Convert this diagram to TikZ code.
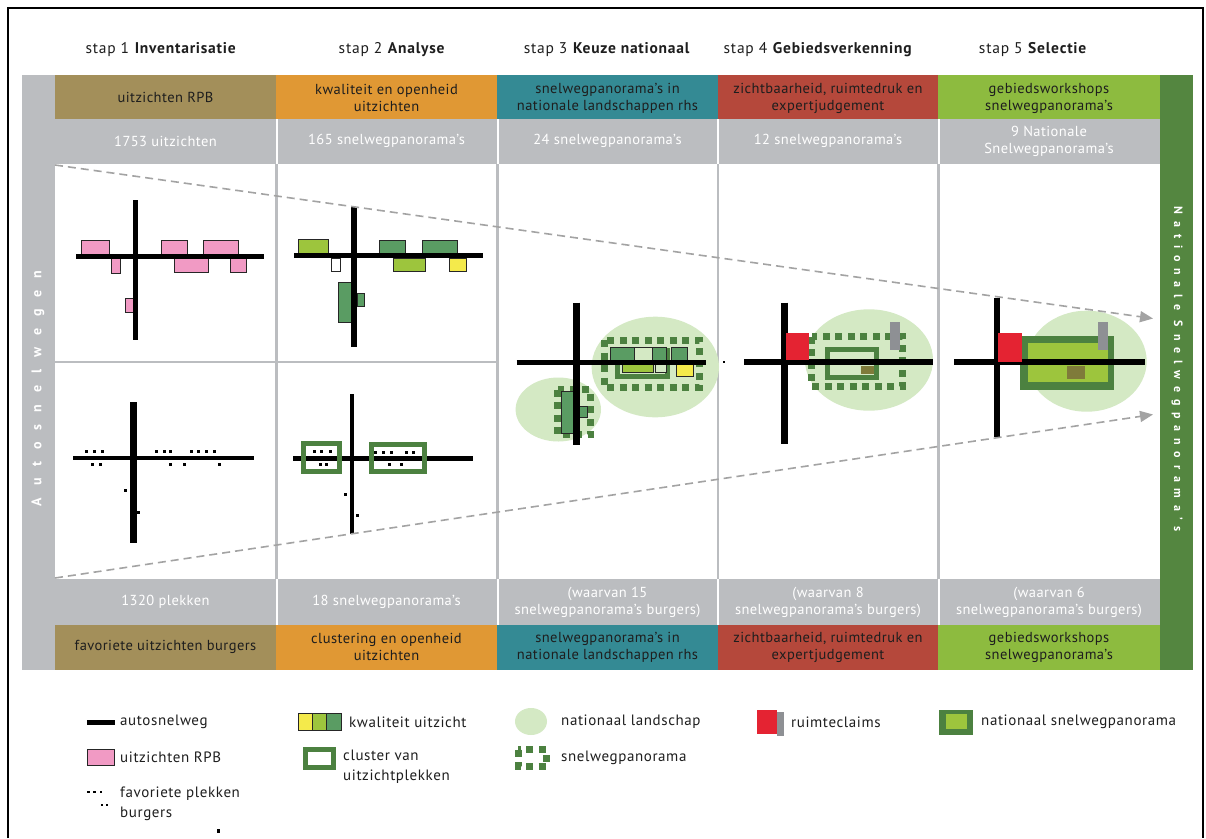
\documentclass[tikz,border=0pt]{standalone}
\usepackage{fontspec}
\setmainfont{PT Sans}
\usetikzlibrary{arrows.meta}
\definecolor{tgrey}{HTML}{BBBDC0}
\definecolor{hkhaki}{HTML}{A38F5A}
\definecolor{horange}{HTML}{E09834}
\definecolor{hteal}{HTML}{348A94}
\definecolor{hred}{HTML}{B5483B}
\definecolor{hlime}{HTML}{8DBB3F}
\definecolor{gbar}{HTML}{548640}
\definecolor{rpb}{HTML}{F19AC4}
\definecolor{qlime}{HTML}{9DC53D}
\definecolor{qgreen}{HTML}{5A9C63}
\definecolor{qyellow}{HTML}{F4EA4B}
\definecolor{cgreen}{HTML}{4C8140}
\definecolor{nland}{HTML}{D4E9C4}
\definecolor{rred}{HTML}{E42332}
\definecolor{rgrey}{HTML}{8E9094}
\definecolor{olivebox}{HTML}{7F7B3A}
\definecolor{dashgrey}{HTML}{A3A3A3}
\definecolor{txt}{HTML}{1E1E1E}
\begin{document}
\begin{tikzpicture}[x=1pt,y=-1pt,
  cell/.style={font=\fontsize{14.5}{17}\selectfont\addfontfeature{LetterSpace=3}, text=txt, align=center, inner sep=0},
  numcell/.style={cell, text=white},
  steptitle/.style={font=\fontsize{15.5}{17}\selectfont\addfontfeature{LetterSpace=5}, text=txt, inner sep=0},
  roadw/.style={black, line width=#1},
  vbox/.style={draw=black!85, line width=0.8},
  clusterframe/.style={draw=cgreen, line width=5},
  pano/.style={draw=cgreen, line width=7, dash pattern=on 7 off 5.5},
  guide/.style={dashgrey, line width=1.6, dash pattern=on 8 off 5, -{Triangle[length=13,width=11]}},
  legtxt/.style={font=\fontsize{15}{20}\selectfont\addfontfeature{LetterSpace=4}, text=txt, anchor=west, inner sep=0, align=left},
]
\useasboundingbox (0,0) rectangle (1206,838);
\fill[white] (0,0) rectangle (1206,838);
% outer frame
\draw[line width=2.5] (8,838) -- (8,8) -- (1203,8) -- (1203,838);

% step titles
\node[steptitle] (t1) at (161,50) {stap 1 \textbf{Inventarisatie}};
\node[steptitle] (t2) at (392,50) {stap 2 \textbf{Analyse}};
\node[steptitle] (t3) at (607,50) {stap 3 \textbf{Keuze nationaal}};
\node[steptitle] (t4) at (818,50) {stap 4 \textbf{Gebiedsverkenning}};
\node[steptitle] (t5) at (1033,50) {stap 5 \textbf{Selectie}};

% table background
\fill[tgrey] (22,75) rectangle (1160,670);
\fill[gbar] (1160,75) rectangle (1193,670);
% coloured header rows
\foreach \xa/\xb/\c in {55/276/hkhaki, 276/497/horange, 497/718/hteal, 718/938/hred, 938/1160/hlime}{
  \fill[\c] (\xa,75) rectangle (\xb,119);
  \fill[\c] (\xa,625) rectangle (\xb,670);
}
% white separators in grey rows
\foreach \x in {276.5,497.5,717.5,938.5}{
  \fill[white] (\x-1,119) rectangle (\x+1,164);
  \fill[white] (\x-1,579) rectangle (\x+1,625);
}
% content cells
\fill[white] (55,164) rectangle (275,360.5);
\fill[white] (55,363) rectangle (275,579);
\fill[white] (277.5,164) rectangle (496,360.5);
\fill[white] (277.5,363) rectangle (496,579);
\fill[white] (498.5,164) rectangle (716.5,579);
\fill[white] (719,164) rectangle (937,579);
\fill[white] (940,164) rectangle (1160,579);

% header texts
\node[cell] (h1) at (165.5,97) {uitzichten RPB};
\node[cell] (h2) at (386.5,98) {kwaliteit en openheid\\uitzichten};
\node[cell] (h3) at (607.5,98) {snelwegpanorama's in\\nationale landschappen rhs};
\node[cell] (h4) at (828,98) {zichtbaarheid, ruimtedruk en\\expertjudgement};
\node[cell] (h5) at (1049,98) {gebiedsworkshops\\snelwegpanorama's};
\node[numcell] (n1) at (165.5,141) {1753 uitzichten};
\node[numcell] (n2) at (386.5,141) {165 snelwegpanorama's};
\node[numcell] (n3) at (607.5,141) {24 snelwegpanorama's};
\node[numcell] (n4) at (828,141) {12 snelwegpanorama's};
\node[numcell] (n5) at (1049,141) {9 Nationale\\Snelwegpanorama's};
\node[numcell] (b1) at (165.5,602) {1320 plekken};
\node[numcell] (b2) at (386.5,602) {18 snelwegpanorama's};
\node[numcell] (b3) at (607.5,602) {(waarvan 15\\snelwegpanorama's burgers)};
\node[numcell] (b4) at (828,602) {(waarvan 8\\snelwegpanorama's burgers)};
\node[numcell] (b5) at (1049,602) {(waarvan 6\\snelwegpanorama's burgers)};
\node[cell] (f1) at (165.5,647) {favoriete uitzichten burgers};
\node[cell] (f2) at (386.5,647) {clustering en openheid\\uitzichten};
\node[cell] (f3) at (607.5,647) {snelwegpanorama's in\\nationale landschappen rhs};
\node[cell] (f4) at (828,647) {zichtbaarheid, ruimtedruk en\\expertjudgement};
\node[cell] (f5) at (1049,647) {gebiedsworkshops\\snelwegpanorama's};

% side bar texts
\node[rotate=90, text=white, inner sep=0, font=\fontsize{14}{14}\selectfont\bfseries\addfontfeature{LetterSpace=85}] (lside) at (38,388.5) {Autosnelwegen};
\node[rotate=-90, text=white, inner sep=0, font=\fontsize{12}{12}\selectfont\bfseries\addfontfeature{LetterSpace=57}] (rside) at (1177,369) {Nationale Snelwegpanorama's};

% ---- column 1 top: uitzichten RPB
\foreach \a/\b/\c/\d in {81.3/240/109/255, 161.7/240/187.7/255, 203.7/240/238.7/255, 111.7/258.5/120.7/273, 174/258.5/208/272, 230/258.5/246/272, 125/298/133.3/312}
  \filldraw[vbox, fill=rpb] (\a,\b) rectangle (\c,\d);
\draw[roadw=4.5] (76,256.7) -- (264,256.7);
\draw[roadw=4.5] (135.7,200) -- (135.7,340);

% ---- column 2 top: kwaliteit
\filldraw[vbox, fill=qlime] (298,239) rectangle (328,253);
\filldraw[vbox, fill=qgreen] (379,240) rectangle (405,253);
\filldraw[vbox, fill=qgreen] (422,240) rectangle (457,253);
\filldraw[vbox, fill=white] (331,258) rectangle (340,271);
\filldraw[vbox, fill=qlime] (393,258) rectangle (425,271);
\filldraw[vbox, fill=qyellow] (449,258) rectangle (466,271);
\filldraw[vbox, fill=qgreen] (338,282) rectangle (351,322);
\filldraw[vbox, fill=qgreen] (357,293) rectangle (364,306);
\draw[roadw=5] (294,255.7) -- (483,255.7);
\draw[roadw=6.5] (354,207) -- (354,347);

% ---- column 1 bottom: favoriete plekken
\draw[roadw=4.5] (73,458) -- (254,458);
\draw[roadw=7] (133,402) -- (133,543);
\foreach \p in {(86,451),(94.3,451),(102.3,451),(156.7,451),(164.3,451),(170,451),(191.7,451),(198.3,451),(206.7,451),(214.7,451),(92.3,464),(100,464),(170,464),(184.3,464),(219.7,464),(125.3,490),(138.3,512.3)}
  \fill \p ++(-1.5,-1.5) rectangle ++(3,3);

% ---- column 2 bottom: clusters
\draw[roadw=5] (293,458) -- (473,458);
\draw[roadw=4] (352.3,394) -- (352.3,534);
\draw[clusterframe] (303.7,443) rectangle (339.7,471.3);
\draw[clusterframe] (371.3,444) rectangle (424,471.3);
\foreach \p in {(314,451),(321.7,451),(330,451),(320,464),(326,464),(375,452),(383.3,452),(391,452),(406.7,452),(413.3,452),(389,464),(401.7,464),(345.7,494.7),(357.3,515)}
  \fill \p ++(-1.5,-1.5) rectangle ++(3,3);

% ---- column 3
\fill[nland] (655.3,367) ellipse [x radius=63.7, y radius=50.3];
\fill[nland] (558.3,409.5) ellipse [x radius=42.7, y radius=32];
\draw[pano] (604.5,340.2) rectangle (699.5,387.5);
\draw[pano] (557.8,389.5) rectangle (590.8,434.8);
\draw[clusterframe] (617.5,350.8) rectangle (667.5,376.8);
\filldraw[vbox, fill=qgreen] (610,347) rectangle (634,360);
\filldraw[vbox, fill=nland] (634,347) rectangle (652,360);
\filldraw[vbox, fill=qgreen] (652,347) rectangle (666,360);
\filldraw[vbox, fill=qgreen] (671,347) rectangle (687,360);
\filldraw[vbox, fill=qlime] (622.7,363.5) rectangle (653.3,372.7);
\filldraw[vbox, fill=nland] (655,363.5) rectangle (666,372.7);
\filldraw[vbox, fill=qyellow] (676.7,363.5) rectangle (693.3,376.7);
\filldraw[vbox, fill=qgreen] (561.7,391.7) rectangle (573.3,433.3);
\filldraw[vbox, fill=qgreen] (579,406) rectangle (587,417.7);
\draw[roadw=5] (516.7,362) -- (705.7,362);
\draw[roadw=7] (576.7,302.7) -- (576.7,445);
\fill (723.3,361.2) rectangle (724.8,362.8);

% ---- column 4
\fill[nland] (869,360) ellipse [x radius=64, y radius=50.7];
\draw[pano] (811.8,336.8) rectangle (902.2,386.5);
\draw[clusterframe] (827.5,349.2) rectangle (876.5,377.5);
\fill[olivebox] (861,366) rectangle (874.3,374);
\fill[rgrey] (890,321.7) rectangle (900,350);
\draw[roadw=6] (744.3,362) -- (933.3,362);
\draw[roadw=7] (784,302.7) -- (784,444);
\fill[rred] (786,333.3) rectangle (809.3,360);

% ---- column 5
\fill[nland] (1086.7,361.2) ellipse [x radius=60, y radius=50.5];
\fill[cgreen] (1020,336) rectangle (1114.3,390);
\fill[qlime] (1028.3,343.3) rectangle (1107.7,381.7);
\fill[olivebox] (1066.7,366) rectangle (1085,379.3);
\fill[rgrey] (1098.3,321.7) rectangle (1108.3,350);
\draw[roadw=6] (954.3,362) -- (1145,362);
\draw[roadw=6] (996.7,298.3) -- (996.7,436.7);
\fill[rred] (998,333.3) rectangle (1022.3,361.7);

% ---- funnel guides
\coordinate (gtopA) at (55,165);
\coordinate (gtopB) at (1153,318.5);
\coordinate (gbotA) at (55,578);
\coordinate (gbotB) at (1153,414.5);
\draw[guide] (gtopA) -- (gtopB);
\draw[guide] (gbotA) -- (gbotB);

% ---- legend
\draw[roadw=4.5] (86.8,722.3) -- (115.4,722.3);
\node[legtxt] (l1) at (120,722) {autosnelweg};
\filldraw[vbox, fill=rpb] (87,749) rectangle (114,765);
\node[legtxt] (l2) at (120,757) {uitzichten RPB};
\foreach \p in {(88.6,791.7),(94.6,791.7),(100.7,791.7),(101.8,805),(107.1,805)}
  \fill \p ++(-1.2,-1.2) rectangle ++(2.4,2.4);
\node[legtxt] (l3) at (120,804) {favoriete plekken\\burgers};
\fill (217,829) rectangle (219.5,833);
\filldraw[vbox, fill=qyellow] (298,713) rectangle (312.3,730);
\filldraw[vbox, fill=qlime] (312.3,713) rectangle (326.7,730);
\filldraw[vbox, fill=qgreen] (326.7,713) rectangle (341,730);
\node[legtxt] (l4) at (349,722) {kwaliteit uitzicht};
\draw[clusterframe] (305.5,749.5) rectangle (333.5,767.5);
\node[legtxt] (l5) at (343,767) {cluster van\\uitzichtplekken};
\fill[nland] (531,721.5) ellipse [x radius=16, y radius=13.5];
\node[legtxt] (l6) at (561,722) {nationaal landschap};
\draw[pano] (518,749.5) rectangle (546,766.5);
\node[legtxt] (l7) at (561,758) {snelwegpanorama};
\fill[rred] (757.3,710) rectangle (776.7,734);
\fill[rgrey] (776.7,711.7) rectangle (783.6,736);
\node[legtxt] (l8) at (791,722) {ruimteclaims};
\fill[cgreen] (939.4,710) rectangle (973,735);
\fill[qlime] (946,714) rectangle (967,729);
\node[legtxt] (l9) at (981,722) {nationaal snelwegpanorama};
\end{tikzpicture}
\end{document}
